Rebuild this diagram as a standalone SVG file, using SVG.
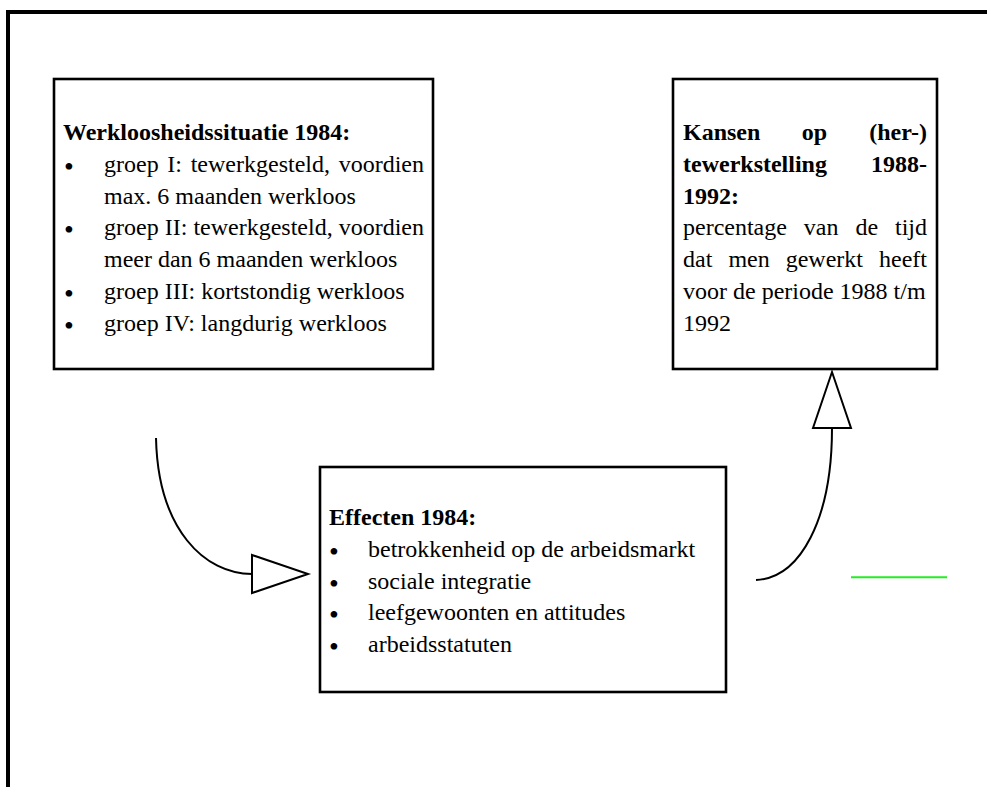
<svg xmlns="http://www.w3.org/2000/svg" width="987" height="787" viewBox="0 0 987 787">
<style>
.t{font-family:"Liberation Serif","Times New Roman",serif;font-size:24px;fill:#000}
.b{font-weight:bold}
.bu{font-family:"Liberation Serif","Times New Roman",serif;font-size:28px;fill:#000;text-anchor:middle}
.box{fill:#fff;stroke:#000;stroke-width:2.6}
.frame{stroke:#000;stroke-width:4;fill:none}
.conn{fill:none;stroke:#000;stroke-width:2}
.e{text-anchor:end}
</style>
<defs>
<marker id="open" markerUnits="userSpaceOnUse" viewBox="-2 -2 60 42" markerWidth="60" markerHeight="42" refX="0" refY="19" orient="auto" overflow="visible">
<path d="M0,0 L56,19 L0,38 Z" fill="#fff" stroke="#000" stroke-width="2" stroke-linejoin="miter"/>
</marker>
</defs>
<rect width="987" height="787" fill="#fff"/>
<g id="frame">
<line class="frame" x1="6" y1="12" x2="987" y2="12"/>
<line class="frame" x1="8" y1="10" x2="8" y2="787"/>
</g>
<g id="node-werkloosheid">
<rect class="box" x="54" y="79" width="379" height="290"/>
<text class="t b" x="63" y="140" font-size="21.5">Werkloosheidssituatie 1984:</text>
<text class="bu" x="69" y="176">•</text>
<text class="t" x="104" y="172">groep</text>
<text class="t" x="167.3" y="172">I:</text>
<text class="t" x="190.7" y="172">tewerkgesteld,</text>
<text class="t e" x="424" y="172">voordien</text>
<text class="t" x="104" y="203.7">max. 6 maanden werkloos</text>
<text class="bu" x="69" y="239.4">•</text>
<text class="t" x="104" y="235.4">groep</text>
<text class="t" x="164.7" y="235.4">II:</text>
<text class="t" x="193.4" y="235.4">tewerkgesteld,</text>
<text class="t e" x="424" y="235.4">voordien</text>
<text class="t" x="104" y="267.1">meer dan 6 maanden werkloos</text>
<text class="bu" x="69" y="302.8">•</text>
<text class="t" x="104" y="298.8">groep III: kortstondig werkloos</text>
<text class="bu" x="69" y="334.5">•</text>
<text class="t" x="104" y="330.5">groep IV: langdurig werkloos</text>
</g>
<g id="node-kansen">
<rect class="box" x="673" y="79" width="264" height="290"/>
<text class="t b" x="683" y="140">Kansen</text>
<text class="t b" x="801.7" y="140">op</text>
<text class="t b e" x="927" y="140">(her-)</text>
<text class="t b" x="683" y="172">tewerkstelling</text>
<text class="t b e" x="927" y="172">1988-</text>
<text class="t b" x="683" y="203.7">1992:</text>
<text class="t" x="683" y="235.4">percentage</text>
<text class="t" x="803.8" y="235.4">van</text>
<text class="t" x="855.4" y="235.4">de</text>
<text class="t e" x="927" y="235.4">tijd</text>
<text class="t" x="683" y="267.1">dat</text>
<text class="t" x="728.4" y="267.1">men</text>
<text class="t" x="785.7" y="267.1">gewerkt</text>
<text class="t e" x="927" y="267.1">heeft</text>
<text class="t" x="683" y="298.8">voor de periode 1988 t/m</text>
<text class="t" x="683" y="330.5">1992</text>
</g>
<g id="node-effecten">
<rect class="box" x="320" y="467" width="406" height="225"/>
<text class="t b" x="329" y="525.3">Effecten 1984:</text>
<text class="bu" x="334" y="561">•</text>
<text class="t" x="368" y="557">betrokkenheid op de arbeidsmarkt</text>
<text class="bu" x="334" y="592.7">•</text>
<text class="t" x="368" y="588.7">sociale integratie</text>
<text class="bu" x="334" y="624.4">•</text>
<text class="t" x="368" y="620.4">leefgewoonten en attitudes</text>
<text class="bu" x="334" y="656.1">•</text>
<text class="t" x="368" y="652.1">arbeidsstatuten</text>
</g>
<g id="connectors">
<path class="conn" d="M156,438 C158,530 205,574 252,574" marker-end="url(#open)"/>
<path class="conn" d="M756,580 C800,578 832,520 832,428" marker-end="url(#open)"/>
</g>
<line x1="851" y1="577.3" x2="947" y2="577.3" stroke="#22ee22" stroke-width="2"/>
</svg>
